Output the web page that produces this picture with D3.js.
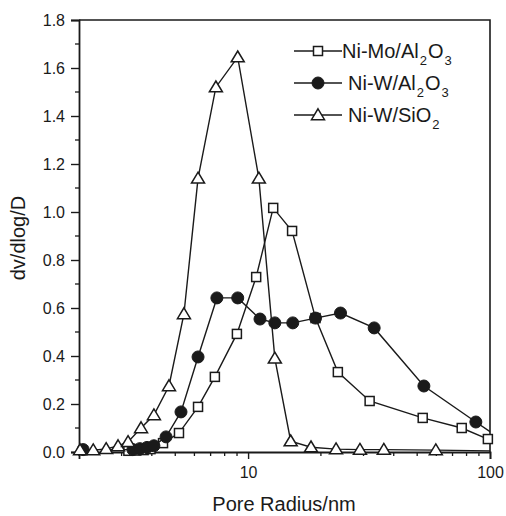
<!DOCTYPE html>
<html>
<head>
<meta charset="utf-8">
<script src="https://cdn.jsdelivr.net/npm/d3@7"></script>
<style>
  html, body { margin: 0; padding: 0; background: #fff; }
  svg { display: block; }
  text { font-family: "Liberation Sans", Arial, sans-serif; fill: #1a1a1a; }
</style>
</head>
<body>
<svg id="chart" width="506" height="516"></svg>
<script>
// Pore size distributions (dv/dlog D versus pore radius in nm)
const niMoAlRadius = [3.2, 3.45, 3.7, 3.95, 4.45, 5.18, 6.21, 7.29, 8.99, 10.8, 12.7, 15.2, 19.0, 23.5, 31.8, 52.7, 76.4, 98];
const niMoAlValue  = [0.005, 0.006, 0.008, 0.012, 0.037, 0.079, 0.188, 0.313, 0.492, 0.729, 1.017, 0.921, 0.558, 0.333, 0.2125, 0.142, 0.10, 0.054];

const niWAlRadius = [2.08, 3.34, 3.57, 3.82, 4.08, 4.58, 5.28, 6.21, 7.43, 9.06, 11.2, 12.9, 15.3, 19.0, 24.1, 33.2, 53.3, 87.4, 110];
const niWAlValue  = [0.01, 0.01, 0.014, 0.019, 0.026, 0.063, 0.167, 0.396, 0.642, 0.642, 0.554, 0.538, 0.538, 0.558, 0.579, 0.517, 0.275, 0.125, 0.057];

const niWSiRadius = [2.02, 2.29, 2.59, 2.90, 3.19, 3.61, 4.08, 4.71, 5.43, 6.21, 7.36, 9.06, 11.08, 12.9, 15.0, 18.2, 23.1, 29.0, 36.4, 59.7, 110];
const niWSiValue  = [0.008, 0.008, 0.013, 0.025, 0.042, 0.10, 0.154, 0.275, 0.575, 1.14, 1.52, 1.645, 1.14, 0.39, 0.045, 0.02, 0.012, 0.01, 0.01, 0.008, 0.004];

const xMajorTicks = [10, 100];
const xMinorTicks = [2, 3, 4, 5, 6, 7, 8, 9, 20, 30, 40, 50, 60, 70, 80, 90];
const yMajorTicks = [0, 0.2, 0.4, 0.6, 0.8, 1.0, 1.2, 1.4, 1.6, 1.8];
const yMinorTicks = [0.1, 0.3, 0.5, 0.7, 0.9, 1.1, 1.3, 1.5, 1.7];

const seriesNames = [["Ni-Mo/Al", "2", "O", "3"], ["Ni-W/Al", "2", "O", "3"], ["Ni-W/SiO", "2"]];
const seriesMarkers = ["square", "circle", "triangle"];

const xTitle = "Pore Radius/nm";
const yTitle = "dv/dlog/D";

// ---------------------------------------------------------------------------
const svg = d3.select("#chart");
const plot = { left: 79, top: 20, right: 490, bottom: 452 };

const x = d3.scaleLog().domain([2, 100]).range([plot.left, plot.right]);
const y = d3.scaleLinear().domain([0, 1.8]).range([plot.bottom, plot.top]);

const ink = "#1a1a1a";
const tickFont = 16;

svg.append("defs").append("clipPath").attr("id", "plotClip")
  .append("rect")
  .attr("x", plot.left - 20).attr("y", plot.top - 20)
  .attr("width", plot.right - plot.left + 20).attr("height", plot.bottom - plot.top + 40);

// Frame (top and right)
svg.append("path")
  .attr("d", `M${plot.left},${plot.top}H${plot.right}V${plot.bottom}`)
  .attr("fill", "none").attr("stroke", ink).attr("stroke-width", 1.6);

// Bottom axis
const xAxisG = svg.append("g").attr("transform", `translate(0,${plot.bottom})`);
xAxisG.call(d3.axisBottom(x).tickValues(xMajorTicks).tickFormat(d3.format("d")).tickSize(7).tickPadding(8))
  .call(g => g.select(".domain").attr("stroke", ink).attr("stroke-width", 1.8))
  .call(g => g.selectAll(".tick line").attr("stroke", ink).attr("stroke-width", 1.4))
  .call(g => g.selectAll(".tick text").attr("font-size", tickFont).attr("fill", ink)
    .style("font-family", "'Liberation Sans', Arial, sans-serif"));
xAxisG.selectAll(".minor").data(xMinorTicks).join("line")
  .attr("class", "minor")
  .attr("x1", d => x(d)).attr("x2", d => x(d))
  .attr("y1", 0).attr("y2", 4)
  .attr("stroke", ink).attr("stroke-width", 1.3);

// Left axis
const yAxisG = svg.append("g").attr("transform", `translate(${plot.left},0)`);
yAxisG.call(d3.axisLeft(y).tickValues(yMajorTicks).tickFormat(d3.format(".1f")).tickSize(8).tickPadding(6))
  .call(g => g.select(".domain").attr("stroke", ink).attr("stroke-width", 1.8))
  .call(g => g.selectAll(".tick line").attr("stroke", ink).attr("stroke-width", 1.4))
  .call(g => g.selectAll(".tick text").attr("font-size", tickFont).attr("fill", ink)
    .style("font-family", "'Liberation Sans', Arial, sans-serif"));
yAxisG.selectAll(".minor").data(yMinorTicks).join("line")
  .attr("class", "minor")
  .attr("x1", 0).attr("x2", -4)
  .attr("y1", d => y(d)).attr("y2", d => y(d))
  .attr("stroke", ink).attr("stroke-width", 1.3);

// Axis titles
svg.append("text")
  .attr("x", 284).attr("y", 511)
  .attr("text-anchor", "middle").attr("font-size", 20)
  .text(xTitle);
svg.append("text")
  .attr("transform", `translate(25,${(plot.top + plot.bottom) / 2 + 2}) rotate(-90)`)
  .attr("text-anchor", "middle").attr("font-size", 20)
  .text(yTitle);

// Marker drawing helpers
function drawMarker(g, type, cx, cy) {
  if (type === "square") {
    g.append("rect")
      .attr("x", cx - 4.5).attr("y", cy - 4.5).attr("width", 9).attr("height", 9)
      .attr("fill", "#fff").attr("stroke", ink).attr("stroke-width", 1.5);
  } else if (type === "circle") {
    g.append("circle")
      .attr("cx", cx).attr("cy", cy).attr("r", 6)
      .attr("fill", ink).attr("stroke", ink).attr("stroke-width", 1);
  } else {
    const s = 6.2;
    g.append("path")
      .attr("d", `M${cx},${cy - s}L${cx + s * 1.05},${cy + s * 0.75}L${cx - s * 1.05},${cy + s * 0.75}Z`)
      .attr("fill", "#fff").attr("stroke", ink).attr("stroke-width", 1.5);
  }
}

const series = [
  { r: niMoAlRadius, v: niMoAlValue, marker: seriesMarkers[0] },
  { r: niWAlRadius,  v: niWAlValue,  marker: seriesMarkers[1] },
  { r: niWSiRadius,  v: niWSiValue,  marker: seriesMarkers[2] }
];

const line = d3.line().x(d => x(d[0])).y(d => y(d[1]));
const dataG = svg.append("g");

series.forEach(s => {
  const pts = s.r.map((r, i) => [r, s.v[i]]);
  dataG.append("path")
    .attr("d", line(pts))
    .attr("clip-path", "url(#plotClip)")
    .attr("fill", "none").attr("stroke", ink).attr("stroke-width", 1.4);
  const mg = dataG.append("g");
  pts.filter(p => p[0] <= 100).forEach(p => drawMarker(mg, s.marker, x(p[0]), y(p[1])));
});

// Legend
const legend = svg.append("g");
const legendRows = [51, 83, 115];
const legendTextX = [342, 348, 348];
seriesNames.forEach((parts, i) => {
  const ly = legendRows[i];
  legend.append("line")
    .attr("x1", 294).attr("x2", 342).attr("y1", ly).attr("y2", ly)
    .attr("stroke", ink).attr("stroke-width", 1.5);
  drawMarker(legend, seriesMarkers[i], 318, ly);
  const t = legend.append("text")
    .attr("x", legendTextX[i]).attr("y", ly + 6.5)
    .attr("font-size", 20);
  parts.forEach((p, k) => {
    const sub = k % 2 === 1;
    t.append("tspan")
      .attr("font-size", sub ? 13 : 20)
      .attr("dx", sub ? 1 : (k > 0 ? 1 : 0))
      .attr("dy", sub ? 7.5 : (k > 0 ? -7.5 : 0))
      .text(p);
  });
});
</script>
</body>
</html>
